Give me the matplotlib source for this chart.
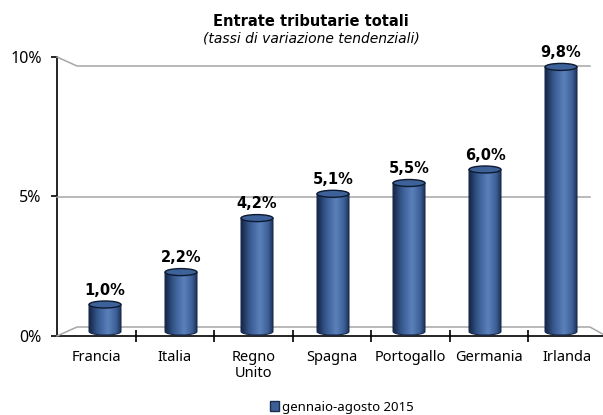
import numpy as np
import matplotlib
matplotlib.use('Agg')
import matplotlib.pyplot as plt
from matplotlib.lines import Line2D
from matplotlib.patches import Polygon, Ellipse, Patch
from matplotlib.colors import LinearSegmentedColormap

plt.rcParams['font.family'] = ['Noto Sans', 'DejaVu Sans']

# data
paesi = ['Francia', 'Italia', 'Regno\nUnito', 'Spagna', 'Portogallo', 'Germania', 'Irlanda']
valori = [1.0, 2.2, 4.2, 5.1, 5.5, 6.0, 9.8]
etichette = ['1,0%', '2,2%', '4,2%', '5,1%', '5,5%', '6,0%', '9,8%']
yticks = [0, 5, 10]
ytick_labels = ['0%', '5%', '10%']
serie = 'gennaio-agosto 2015'

W, H = 603, 415
fig = plt.figure(figsize=(W / 100, H / 100), dpi=100)

def fx(px):
    return px / W

def fy(py):
    return 1 - py / H

# front axis (y axis + category labels)
axf = fig.add_axes([fx(57), fy(336), fx(549.5), (336 - 57) / H])
axf.set_xlim(0, 7)
axf.set_ylim(0, 10)
axf.patch.set_alpha(0)
for s in ['top', 'right']:
    axf.spines[s].set_visible(False)
axf.spines['left'].set_linewidth(1.2)
axf.spines['bottom'].set_linewidth(1.2)
axf.set_yticks(yticks)
axf.set_yticklabels(ytick_labels, fontsize=11.5)
axf.tick_params(axis='y', direction='out', length=4, width=1.2, pad=7)
axf.set_xticks(range(1, 7))
axf.set_xticklabels([])
axf.tick_params(axis='x', which='major', direction='inout', length=9, width=1.2)
axf.set_xticks(np.arange(7) + 0.5, minor=True)
axf.set_xticklabels(paesi, minor=True, fontsize=10.5, linespacing=1.1)
axf.tick_params(axis='x', which='minor', length=0, pad=10)
axf.set_zorder(1)

# back wall gridlines (perspective)
grid_col = '#a6a6a6'
for v in yticks:
    y_front = 336 - 27.9 * v
    y_back = 327 - 26.1 * v
    xs = [57, 77, 590]
    ys = [y_front, y_back, y_back]
    if v == 0:
        xs.append(606)
        ys.append(336)
    fig.add_artist(Line2D([fx(x) for x in xs], [fy(y) for y in ys],
                          color=grid_col, lw=1.1, zorder=2))

# bars (cylinders)
ax = fig.add_axes([0, fy(331.5 + 27), 1, 12 * 27 / H])
ax.set_xlim(-105 / 76, 498 / 76)
ax.set_ylim(-1, 11)
ax.axis('off')
ax.patch.set_alpha(0)
ax.set_zorder(3)

cmap = LinearSegmentedColormap.from_list('cil', [
    (0.0, '#142544'), (0.25, '#34568b'), (0.6, '#5b81bc'),
    (0.85, '#3d6097'), (1.0, '#1d335a')])
grad = np.linspace(0, 1, 200).reshape(1, -1)

w = 0.42
eh = 0.26
t = np.linspace(np.pi, 2 * np.pi, 40)
for i, v in enumerate(valori):
    x0, x1 = i - w / 2, i + w / 2
    bottom = np.column_stack([i + w / 2 * np.cos(t), eh / 2 * np.sin(t)])
    pts = np.vstack([[x0, v], bottom, [x1, v]])
    clip = Polygon(pts, closed=True, facecolor='none', edgecolor='none',
                   transform=ax.transData)
    ax.add_patch(clip)
    im = ax.imshow(grad, cmap=cmap, extent=[x0, x1, -eh, v], aspect='auto',
                   interpolation='bilinear', zorder=2)
    im.set_clip_path(clip)
    ax.add_patch(Polygon(pts, closed=True, facecolor='none', edgecolor='#16284a',
                         lw=0.8, zorder=3))
    ax.add_patch(Ellipse((i, v), w, eh, facecolor='#3d6199', edgecolor='#0e1a30',
                         lw=1.0, zorder=4))
    ax.annotate(etichette[i], (i, v), xytext=(0, 5), textcoords='offset points',
                ha='center', va='bottom', fontsize=10.5, fontweight='bold',
                family='DejaVu Sans')

ax.set_xlim(-105 / 76, 498 / 76)
ax.set_ylim(-1, 11)

# titles
fig.text(fx(311), fy(21.5), 'Entrate tributarie totali', ha='center', va='center',
         fontsize=10.5, fontweight='bold', family='DejaVu Sans')
fig.text(fx(311), fy(39), '(tassi di variazione tendenziali)', ha='center',
         va='center', fontsize=10, style='italic', family='DejaVu Sans')

fig.legend(handles=[Patch(facecolor='#3c5f96', edgecolor='#1a2d4d')], labels=[serie],
           loc='center', bbox_to_anchor=(fx(342), fy(407)), frameon=False,
           handlelength=0.7, handleheight=0.7, handletextpad=0.2, fontsize=9.5)

fig.savefig('out.png', dpi=100)
